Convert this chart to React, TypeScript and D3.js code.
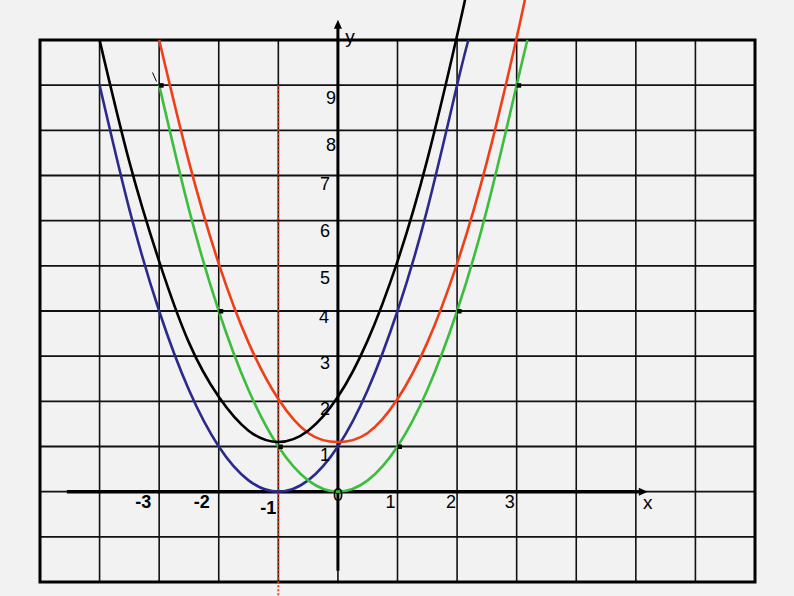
import { useMemo } from 'react';
import { scaleLinear, line, curveNatural, range } from 'd3';

// Points (x, y)
const greenX = [-3, -2.5, -2, -1.5, -1, -0.5, 0, 0.5, 1, 1.5, 2, 2.5, 3, 3.18];
const greenY = [9, 6.25, 4, 2.25, 1, 0.25, 0, 0.25, 1, 2.25, 4, 6.25, 9, 10];

const blueX = [-4, -3.5, -3, -2.5, -2, -1.5, -1, -0.5, 0, 0.5, 1, 1.5, 2, 2.19];
const blueY = [9, 6.25, 4, 2.25, 1, 0.25, 0, 0.25, 1, 2.25, 4, 6.25, 9, 10];

const blackX = [-4, -3.5, -3, -2.5, -2, -1.5, -1, -0.5, 0, 0.5, 1, 1.5, 2, 2.2];
const blackY = [10, 7.3, 5.1, 3.3, 2.1, 1.35, 1.1, 1.35, 2.1, 3.35, 5.1, 7.35, 10.1, 11.3];

const redX = [-3, -2.5, -2, -1.5, -1, -0.5, 0, 0.5, 1, 1.5, 2, 2.5, 3, 3.2];
const redY = [10, 7.3, 5.05, 3.3, 2.05, 1.3, 1.1, 1.3, 2.05, 3.3, 5.05, 7.3, 10.05, 11.3];

// small black square markers
const markerX = [-3, -2, -1, 1, 2, 3];
const markerY = [9, 4, 1, 1, 4, 9];

const xTickValues = [-3, -2, -1, 0, 1, 2, 3];
const xTickLabels = ['-3', '-2', '-1', '0', '1', '2', '3'];
const yTickValues = [1, 2, 3, 4, 5, 6, 7, 8, 9];
const yTickLabels = ['1', '2', '3', '4', '5', '6', '7', '8', '9'];

const symmetryX = -1;

// label nudges (layout only)
const xLabelDx = [-16, -17, -10, 0, -7, -6, -7];
const xLabelDy = [16, 16, 22, 9, 16, 16, 16];
const yLabelDx = [-13, -13, -13, -14, -13, -13, -13, -7, -7];
const yLabelDy = [14, 14, 12.5, 12, 18, 16, 14, 21, 18.5];

const W = 794;
const H = 596;

export default function App() {
  const x = useMemo(() => scaleLinear().domain([-5, 7]).range([40, 755]), []);
  const y = useMemo(() => scaleLinear().domain([-2, 10]).range([582, 40]), []);

  const path = line<[number, number]>()
    .x((d) => x(d[0]))
    .y((d) => y(d[1]))
    .curve(curveNatural);

  const zip = (xs: number[], ys: number[]) => xs.map((v, i) => [v, ys[i]] as [number, number]);

  const series = [
    { pts: zip(blueX, blueY), color: '#2a2a8c' },
    { pts: zip(greenX, greenY), color: '#3dbd3d' },
    { pts: zip(redX, redY), color: '#ee3f18' },
    { pts: zip(blackX, blackY), color: '#000000' },
  ];

  const gridX = range(-4, 7);
  const gridY = range(-1, 10);
  const x0 = x(0);
  const y0 = y(0);
  const font = '"Liberation Sans", Arial, sans-serif';

  return (
    <svg
      width={W}
      height={H}
      style={{ position: 'fixed', left: 0, top: 0, background: '#f2f2f2' }}
    >
      {/* grid */}
      {gridX.map((v) => (
        <line key={'gx' + v} x1={x(v)} x2={x(v)} y1={y(10)} y2={y(-2)} stroke="#111" strokeWidth={1.6} />
      ))}
      {gridY.map((v) => (
        <line key={'gy' + v} x1={x(-5)} x2={x(7)} y1={y(v)} y2={y(v)} stroke="#111" strokeWidth={1.8} />
      ))}
      <rect x={x(-5)} y={y(10)} width={x(7) - x(-5)} height={y(-2) - y(10)} fill="none" stroke="#000" strokeWidth={3} />

      {/* axes */}
      <line x1={x(-4.55)} x2={x(5.05)} y1={y0} y2={y0} stroke="#000" strokeWidth={3.5} />
      <polygon
        points={`${x(5.2)},${y0} ${x(5.05)},${y0 - 4} ${x(5.05)},${y0 + 4}`}
        fill="#000"
      />
      <line x1={x0} x2={x0} y1={y(-1.75)} y2={y(10.3)} stroke="#000" strokeWidth={3} />
      <polygon
        points={`${x0},${y(10.45)} ${x0 - 4},${y(10.25)} ${x0 + 4},${y(10.25)}`}
        fill="#000"
      />

      {/* symmetry line */}
      <line
        x1={x(symmetryX)}
        x2={x(symmetryX)}
        y1={y(9)}
        y2={H}
        stroke="#ee3f18"
        strokeWidth={2}
        strokeDasharray="2,2"
      />

      {/* parabolas */}
      {series.map((s, i) => (
        <path key={i} d={path(s.pts) || ''} fill="none" stroke={s.color} strokeWidth={2.6} />
      ))}

      {/* markers */}
      {markerX.map((v, i) => (
        <rect key={'m' + i} x={x(v)} y={y(markerY[i]) - 2} width={4.5} height={4.5} fill="#000" />
      ))}
      <line x1={152.5} y1={72.5} x2={156.5} y2={81.5} stroke="#000" strokeWidth={1} />

      {/* tick labels */}
      {xTickValues.map((v, i) => (
        <text
          key={'xl' + v}
          x={x(v) + xLabelDx[i]}
          y={y0 + xLabelDy[i]}
          textAnchor="middle"
          fontFamily={font}
          fontSize={18}
          fontWeight={v < 0 ? 'bold' : 'normal'}
          fill="#000"
        >
          {xTickLabels[i]}
        </text>
      ))}
      {yTickValues.map((v, i) => (
        <text
          key={'yl' + v}
          x={x0 + yLabelDx[i]}
          y={y(v) + yLabelDy[i]}
          textAnchor="middle"
          fontFamily={font}
          fontSize={18}
          fill="#000"
        >
          {yTickLabels[i]}
        </text>
      ))}

      {/* axis names */}
      <text x={x(5.2)} y={y0 + 17} textAnchor="middle" fontFamily={font} fontSize={19} fill="#000">
        x
      </text>
      <text x={x0 + 12} y={43} textAnchor="middle" fontFamily={font} fontSize={19} fill="#000">
        y
      </text>
    </svg>
  );
}
